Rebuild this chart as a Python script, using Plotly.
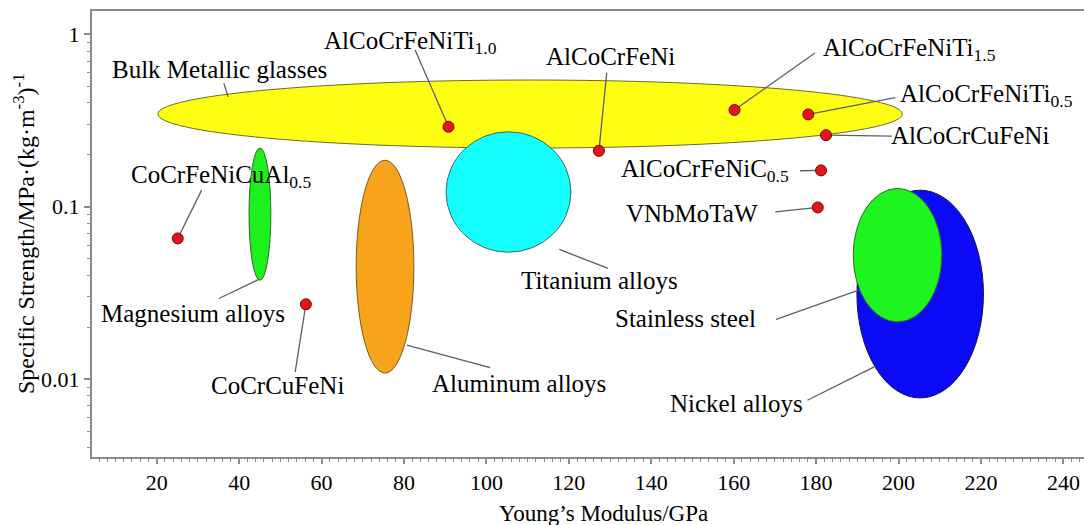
import numpy as np
import plotly.graph_objects as go

# ---------------- data ----------------
# High-entropy alloys (red points)
alloy_names = ["AlCoCrFeNiTi<sub>1.0</sub>", "AlCoCrFeNi", "AlCoCrFeNiTi<sub>1.5</sub>",
               "AlCoCrFeNiTi<sub>0.5</sub>", "AlCoCrCuFeNi", "AlCoCrFeNiC<sub>0.5</sub>",
               "VNbMoTaW", "CoCrFeNiCuAl<sub>0.5</sub>", "CoCrCuFeNi"]
alloy_modulus = [90.8, 127.3, 160.2, 178.1, 182.4, 181.2, 180.4, 25.1, 56.2]
alloy_strength = [0.291, 0.211, 0.364, 0.343, 0.260, 0.1625, 0.0991, 0.0655, 0.0272]
alloy_label_x = [81.6, 130.0, 202.7, 221.3, 217.4, 153.1, 150.0, 35.6, 49.3]
alloy_label_y = [0.902, 0.741, 0.811, 0.444, 0.260, 0.163, 0.0918, 0.149, 0.00923]
alloy_leader_x = [82.7, 129.2, 179.7, 199.2, 198.4, 176.1, 170.1, 30.9, 53.6]
alloy_leader_y = [0.811, 0.599, 0.779, 0.429, 0.257, 0.1617, 0.0934, 0.1249, 0.01103]

# Conventional material families (ellipses)
family_names = ["Bulk Metallic glasses", "Titanium alloys", "Aluminum alloys",
                "Magnesium alloys", "Nickel alloys", "Stainless steel"]
family_e_min = [20.3, 90.2, 68.4, 42.4, 189.9, 189.0]
family_e_max = [200.9, 120.5, 82.4, 47.7, 220.6, 210.5]
family_s_min = [0.219, 0.0545, 0.01086, 0.0375, 0.00779, 0.0215]
family_s_max = [0.543, 0.272, 0.186, 0.219, 0.1248, 0.1277]
family_colors = ["#ffff14", "#14ffff", "#f8a31c", "#1ef01e", "#0a0af5", "#1ef51e"]
family_edges = ["#6b6b2a", "#3a6a6a", "#7a5a20", "#2f6a2f", "#10105a", "#2f6a2f"]
family_label_x = [35.2, 127.5, 108.0, 28.7, 160.8, 148.2]
family_label_y = [0.629, 0.03754, 0.00948, 0.02415, 0.007258, 0.02259]
family_leader_x0 = [36.3, 129.5, 100.9, 35.1, 177.9, 170.3]
family_leader_y0 = [0.5194, 0.04389, 0.01169, 0.02938, 0.007553, 0.0222]
family_leader_x1 = [37.3, 117.7, 80.7, 44.8, 194.1, 190.3]
family_leader_y1 = [0.4344, 0.05656, 0.01575, 0.03789, 0.01179, 0.03284]

x_ticks = [20, 40, 60, 80, 100, 120, 140, 160, 180, 200, 220, 240]
y_ticks = [0.01, 0.1, 1]
y_tick_text = ["0.01", "0.1", "1"]

FONT = "Liberation Serif, Times New Roman, serif"
LEADER = "#5e5e5e"
LABEL_SIZE = 25

fig = go.Figure()

# ellipses
for i in range(len(family_names)):
    fig.add_shape(type="circle", xref="x", yref="y", layer="below",
                  x0=family_e_min[i], x1=family_e_max[i],
                  y0=family_s_min[i], y1=family_s_max[i],
                  fillcolor=family_colors[i],
                  line=dict(color=family_edges[i], width=1))

# leader lines and labels for families
for i in range(len(family_names)):
    fig.add_trace(go.Scatter(x=[family_leader_x0[i], family_leader_x1[i]],
                             y=[family_leader_y0[i], family_leader_y1[i]],
                             mode="lines", line=dict(color=LEADER, width=1.3),
                             hoverinfo="skip", showlegend=False))
    fig.add_annotation(x=family_label_x[i], y=np.log10(family_label_y[i]),
                       xref="x", yref="y", text=family_names[i], showarrow=False,
                       xanchor="center", yanchor="middle",
                       font=dict(family=FONT, size=LABEL_SIZE, color="black"))

# leader lines and labels for alloys
for i in range(len(alloy_names)):
    fig.add_trace(go.Scatter(x=[alloy_leader_x[i], alloy_modulus[i]],
                             y=[alloy_leader_y[i], alloy_strength[i]],
                             mode="lines", line=dict(color=LEADER, width=1.3),
                             hoverinfo="skip", showlegend=False))
    fig.add_annotation(x=alloy_label_x[i], y=np.log10(alloy_label_y[i]),
                       xref="x", yref="y", text=alloy_names[i], showarrow=False,
                       xanchor="center", yanchor="middle",
                       font=dict(family=FONT, size=LABEL_SIZE, color="black"))

# points
fig.add_trace(go.Scatter(x=alloy_modulus, y=alloy_strength, mode="markers",
                         marker=dict(size=11, color="#e3141b",
                                     line=dict(color="#7a0000", width=1)),
                         showlegend=False))

# axis titles
fig.add_annotation(xref="paper", yref="paper", x=-0.0685, y=0.5,
                   text="Specific Strength/MPa·(kg·m<sup>-3</sup>)<sup>-1</sup>",
                   textangle=-90, showarrow=False, xanchor="center", yanchor="middle",
                   font=dict(family=FONT, size=24, color="black"))
fig.add_annotation(xref="paper", yref="paper", x=0.516, y=-0.1256,
                   text="Young’s Modulus/GPa", showarrow=False,
                   xanchor="center", yanchor="middle",
                   font=dict(family=FONT, size=23, color="black"))

fig.update_layout(
    width=1084, height=525,
    margin=dict(l=92, r=0, t=11, b=68),
    paper_bgcolor="white", plot_bgcolor="white",
    showlegend=False,
    xaxis=dict(range=[4.3, 245], tickvals=x_ticks, showgrid=False, zeroline=False,
               showline=True, linecolor="#8a8a8a", linewidth=2, mirror=True,
               ticks="outside", ticklen=5, tickwidth=1.5, tickcolor="#8a8a8a",
               minor=dict(dtick=2, ticks="outside", ticklen=3, tickwidth=1,
                          tickcolor="#8a8a8a", showgrid=False),
               tickfont=dict(family=FONT, size=22, color="black")),
    yaxis=dict(type="log", range=[-2.451, 0.135], tickvals=y_ticks, ticktext=y_tick_text,
               showgrid=False, zeroline=False,
               showline=True, linecolor="#8a8a8a", linewidth=2,
               ticks="outside", ticklen=6, tickwidth=1.5, tickcolor="#8a8a8a",
               minor=dict(dtick="D1", ticks="outside", ticklen=3, tickwidth=1,
                          tickcolor="#8a8a8a", showgrid=False),
               tickfont=dict(family=FONT, size=22, color="black")),
)

fig.write_html("out.html",
               config={"displayModeBar": False},
               post_script="document.body.style.margin='0px';"
                           "document.body.style.overflow='hidden';")
